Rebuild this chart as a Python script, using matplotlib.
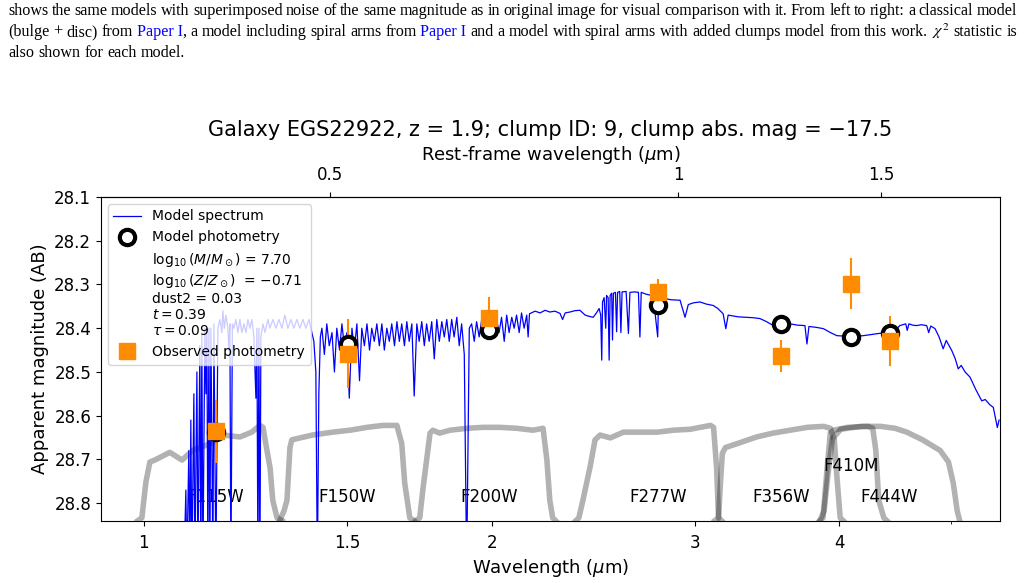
import matplotlib
matplotlib.use('Agg')
import matplotlib.pyplot as plt
from matplotlib.ticker import FixedLocator, NullFormatter, NullLocator

z = 1.9

# photometry
filters = ['F115W', 'F150W', 'F200W', 'F277W', 'F356W', 'F410M', 'F444W']
phot_wave = [1.154, 1.501, 1.990, 2.786, 3.563, 4.092, 4.421]
model_mag = [28.637, 28.435, 28.403, 28.348, 28.391, 28.419, 28.412]
obs_mag = [28.636, 28.458, 28.377, 28.318, 28.464, 28.298, 28.430]
obs_err = [0.071, 0.078, 0.048, 0.030, 0.036, 0.059, 0.057]
label_mag = [28.787, 28.787, 28.787, 28.787, 28.787, 28.716, 28.787]

# filter transmission curves (normalised)
f115w_wave = [0.988, 0.996, 1.004, 1.012, 1.022, 1.053, 1.079, 1.102, 1.141, 1.170, 1.211, 1.240, 1.260, 1.268, 1.278, 1.286, 1.293, 1.304, 1.317]
f115w_trans = [0.0, 0.03, 0.40, 0.61, 0.63, 0.71, 0.63, 0.73, 0.80, 0.89, 0.87, 0.92, 0.99, 0.97, 0.73, 0.55, 0.21, 0.03, 0.0]
f150w_wave = [1.311, 1.322, 1.330, 1.338, 1.343, 1.365, 1.400, 1.457, 1.508, 1.560, 1.611, 1.656, 1.672, 1.682, 1.699, 1.713]
f150w_trans = [0.0, 0.10, 0.21, 0.76, 0.84, 0.86, 0.89, 0.92, 0.94, 0.97, 0.99, 0.99, 0.80, 0.39, 0.03, 0.0]
f200w_wave = [1.720, 1.733, 1.745, 1.769, 1.779, 1.803, 1.841, 1.904, 1.966, 2.034, 2.103, 2.172, 2.216, 2.233, 2.246, 2.259, 2.272]
f200w_trans = [0.0, 0.03, 0.35, 0.91, 0.94, 0.91, 0.94, 0.96, 0.97, 0.97, 0.96, 0.94, 0.96, 0.63, 0.21, 0.03, 0.0]
f277w_wave = [2.366, 2.380, 2.399, 2.433, 2.458, 2.483, 2.534, 2.601, 2.690, 2.782, 2.873, 2.972, 3.032, 3.094, 3.113, 3.132, 3.144, 3.163]
f277w_trans = [0.0, 0.03, 0.21, 0.55, 0.84, 0.89, 0.86, 0.92, 0.92, 0.92, 0.94, 0.95, 0.97, 0.99, 0.97, 0.55, 0.03, 0.0]
f356w_wave = [3.121, 3.144, 3.156, 3.168, 3.188, 3.280, 3.392, 3.505, 3.626, 3.753, 3.876, 3.929, 3.960, 3.983, 4.007, 4.031]
f356w_trans = [0.0, 0.03, 0.39, 0.70, 0.76, 0.81, 0.87, 0.91, 0.94, 0.97, 0.98, 0.96, 0.84, 0.42, 0.03, 0.0]
f410m_wave = [3.848, 3.872, 3.904, 3.929, 3.953, 4.066, 4.233, 4.275, 4.301, 4.327, 4.371, 4.397]
f410m_trans = [0.0, 0.03, 0.55, 0.91, 0.94, 0.97, 0.98, 0.96, 0.74, 0.21, 0.03, 0.0]
f444w_wave = [3.848, 3.880, 3.912, 3.945, 4.011, 4.174, 4.345, 4.470, 4.576, 4.722, 4.890, 4.972, 5.020, 5.060, 5.085]
f444w_trans = [0.0, 0.10, 0.50, 0.85, 0.95, 0.98, 0.98, 0.96, 0.92, 0.84, 0.73, 0.61, 0.39, 0.10, 0.0]

# model spectrum, blue end (Balmer lines / break)
spec_blue = [
    (1.083, 28.95), (1.0873, 28.77), (1.0894, 28.95), (1.0937, 28.68), (1.0959, 28.95),
    (1.0981, 28.61), (1.1004, 28.95), (1.1048, 28.55), (1.1070, 28.95), (1.1115, 28.50),
    (1.1137, 28.95), (1.1180, 28.44), (1.1203, 28.95), (1.1225, 28.41), (1.1248, 28.95),
    (1.1293, 28.40), (1.1316, 28.55), (1.1338, 28.40), (1.1361, 28.95), (1.1384, 28.40),
    (1.1406, 28.95), (1.1429, 28.40), (1.1475, 28.95), (1.1498, 28.39), (1.1543, 28.95),
    (1.1590, 28.40), (1.1636, 28.38), (1.1683, 28.41), (1.1706, 28.36), (1.1740, 28.40),
    (1.1776, 28.37), (1.1823, 28.40), (1.1847, 28.45), (1.1870, 28.39), (1.1894, 28.95),
    (1.1930, 28.39), (1.1965, 28.40), (1.2013, 28.38), (1.2061, 28.41), (1.2109, 28.38),
    (1.2157, 28.41), (1.2206, 28.39), (1.2255, 28.41), (1.2304, 28.38), (1.2353, 28.40),
    (1.2402, 28.38), (1.2452, 28.42), (1.2502, 28.56), (1.2527, 28.40), (1.2552, 28.95),
    (1.2577, 28.40), (1.2602, 28.95), (1.2627, 28.42), (1.2678, 28.39), (1.2728, 28.41),
    (1.2805, 28.38), (1.2855, 28.40), (1.2933, 28.38), (1.3010, 28.40), (1.3088, 28.38),
    (1.3166, 28.40), (1.3245, 28.37), (1.3325, 28.40), (1.3405, 28.38), (1.3485, 28.40),
    (1.3566, 28.38), (1.3647, 28.40), (1.3730, 28.38), (1.3812, 28.40), (1.3895, 28.38),
    (1.3978, 28.41), (1.4033, 28.43), (1.4089, 28.50), (1.4131, 28.95), (1.4173, 28.55),
    (1.4216, 28.42),
]

# noisy part between H-beta and 2.15 um
spec_mid = [
    (1.426, 28.40), (1.433, 28.46), (1.440, 28.39), (1.447, 28.44), (1.455, 28.41),
    (1.462, 28.50), (1.469, 28.40), (1.477, 28.45), (1.484, 28.39), (1.491, 28.44),
    (1.499, 28.41), (1.506, 28.56), (1.514, 28.40), (1.521, 28.45), (1.529, 28.39),
    (1.537, 28.52), (1.544, 28.40), (1.552, 28.44), (1.560, 28.39), (1.568, 28.45),
    (1.575, 28.40), (1.583, 28.43), (1.591, 28.39), (1.599, 28.44), (1.607, 28.39),
    (1.615, 28.45), (1.623, 28.40), (1.631, 28.43), (1.639, 28.39), (1.648, 28.44),
    (1.656, 28.385), (1.664, 28.43), (1.672, 28.39), (1.681, 28.44), (1.689, 28.385),
    (1.697, 28.43), (1.706, 28.39), (1.714, 28.555), (1.723, 28.39), (1.731, 28.43),
    (1.740, 28.385), (1.749, 28.44), (1.757, 28.39), (1.766, 28.43), (1.775, 28.385),
    (1.784, 28.47), (1.793, 28.38), (1.802, 28.43), (1.811, 28.385), (1.820, 28.42),
    (1.829, 28.38), (1.838, 28.43), (1.847, 28.38), (1.856, 28.42), (1.866, 28.375),
    (1.875, 28.44), (1.884, 28.39), (1.894, 28.46), (1.903, 28.95), (1.913, 28.40),
    (1.922, 28.39), (1.932, 28.43), (1.941, 28.385), (1.951, 28.42), (1.961, 28.38),
    (1.971, 28.42), (1.980, 28.38), (1.990, 28.41), (2.000, 28.375), (2.010, 28.42),
    (2.020, 28.38), (2.030, 28.41), (2.040, 28.375), (2.051, 28.43), (2.061, 28.37),
    (2.071, 28.41), (2.082, 28.375), (2.092, 28.40), (2.102, 28.37), (2.113, 28.41),
    (2.123, 28.365), (2.134, 28.40), (2.145, 28.37), (2.151, 28.42), (2.157, 28.367),
]

# smooth red part
spec_red = [
    (2.181, 28.361), (2.203, 28.365), (2.225, 28.359), (2.246, 28.363), (2.269, 28.361),
    (2.292, 28.366), (2.304, 28.38), (2.316, 28.365), (2.338, 28.363), (2.360, 28.36),
    (2.385, 28.359), (2.410, 28.37), (2.430, 28.373), (2.449, 28.375), (2.465, 28.365),
    (2.478, 28.355), (2.486, 28.37), (2.491, 28.473), (2.495, 28.34), (2.503, 28.33),
    (2.511, 28.40), (2.515, 28.325), (2.523, 28.33), (2.528, 28.473), (2.533, 28.325),
    (2.541, 28.32), (2.545, 28.427), (2.550, 28.32), (2.560, 28.318), (2.566, 28.408),
    (2.571, 28.318), (2.582, 28.316), (2.588, 28.41), (2.594, 28.317), (2.615, 28.316),
    (2.627, 28.412), (2.635, 28.318), (2.660, 28.317), (2.680, 28.318), (2.688, 28.42),
    (2.695, 28.318), (2.720, 28.322), (2.760, 28.326), (2.785, 28.42), (2.790, 28.328),
    (2.810, 28.33), (2.835, 28.333), (2.860, 28.335), (2.912, 28.336), (2.941, 28.375),
    (2.960, 28.346), (2.990, 28.342), (3.030, 28.34), (3.070, 28.345), (3.111, 28.348),
    (3.140, 28.355), (3.173, 28.367), (3.190, 28.401), (3.205, 28.37), (3.220, 28.371),
    (3.270, 28.374), (3.325, 28.375), (3.370, 28.376), (3.415, 28.378), (3.460, 28.385),
    (3.507, 28.394), (3.560, 28.392), (3.625, 28.39), (3.680, 28.393), (3.735, 28.394),
    (3.750, 28.436), (3.765, 28.396), (3.820, 28.398), (3.875, 28.401), (3.930, 28.41),
    (3.980, 28.417), (4.040, 28.418), (4.101, 28.42), (4.150, 28.418), (4.197, 28.417),
    (4.250, 28.415), (4.309, 28.413), (4.380, 28.41), (4.456, 28.405), (4.490, 28.40),
    (4.513, 28.394), (4.540, 28.392), (4.566, 28.39), (4.580, 28.405), (4.595, 28.39),
    (4.630, 28.393), (4.667, 28.394), (4.710, 28.392), (4.761, 28.394), (4.780, 28.41),
    (4.800, 28.395), (4.841, 28.401), (4.880, 28.42), (4.920, 28.447), (4.950, 28.428),
    (5.005, 28.451), (5.040, 28.47), (5.070, 28.493), (5.100, 28.485), (5.140, 28.50),
    (5.191, 28.512), (5.250, 28.54), (5.313, 28.566), (5.350, 28.563), (5.400, 28.575),
    (5.437, 28.581), (5.481, 28.627), (5.500, 28.61),
]

spec_wave, spec_mag = zip(*(spec_blue + spec_mid + spec_red))

fig = plt.figure(figsize=(10.25, 5.83), dpi=100)
ax = fig.add_axes([0.0985, 0.1069, 0.8771, 0.5552])

curves = [(f115w_wave, f115w_trans), (f150w_wave, f150w_trans), (f200w_wave, f200w_trans),
          (f277w_wave, f277w_trans), (f356w_wave, f356w_trans), (f410m_wave, f410m_trans),
          (f444w_wave, f444w_trans)]
for wv, tr in curves:
    ax.plot(wv, [28.84 - 0.22 * t for t in tr], color='k', alpha=0.3, lw=4,
            solid_joinstyle='round', zorder=1)
for w, m, name in zip(phot_wave, label_mag, filters):
    ax.text(w, m, name, ha='center', va='center', fontsize=12, zorder=1.5)

ax.plot(spec_wave, spec_mag, color='blue', lw=0.9, label='Model spectrum', zorder=2)
ax.errorbar(phot_wave, obs_mag, yerr=obs_err, fmt='none', ecolor='darkorange',
            elinewidth=1.5, zorder=3)
ax.plot(phot_wave, model_mag, 'o', ms=11, mfc='white', mec='k', mew=3,
        label='Model photometry', zorder=4)
params = ('$\\log_{10}(M/M_\\odot)$ = 7.70\n'
          '$\\log_{10}(Z/Z_\\odot)$  = \u22120.71\n'
          'dust2 = 0.03\n'
          '$t = 0.39$\n'
          '$\\tau = 0.09$')
ax.plot([], [], ' ', label=params)
ax.plot(phot_wave, obs_mag, 's', ms=12, color='darkorange', label='Observed photometry',
        zorder=5)

ax.set_xscale('log')
ax.set_xlim(0.918, 5.51)
ax.set_ylim(28.84, 28.1)
ax.xaxis.set_major_locator(FixedLocator([1, 1.5, 2, 3, 4]))
ax.xaxis.set_major_formatter(NullFormatter())
ax.set_xticklabels(['1', '1.5', '2', '3', '4'])
ax.xaxis.set_minor_locator(FixedLocator([5]))
ax.xaxis.set_minor_formatter(NullFormatter())
ax.set_yticks([28.1, 28.2, 28.3, 28.4, 28.5, 28.6, 28.7, 28.8])
ax.tick_params(labelsize=12)
ax.tick_params(axis='x', pad=6)
ax.set_xlabel('Wavelength ($\\mu$m)', fontsize=13)
ax.set_ylabel('Apparent magnitude (AB)', fontsize=13)

sec = ax.secondary_xaxis('top', functions=(lambda x: x / (1 + z), lambda x: x * (1 + z)))
sec.xaxis.set_major_locator(FixedLocator([0.5, 1, 1.5]))
sec.set_xticklabels(['0.5', '1', '1.5'])
sec.xaxis.set_minor_locator(NullLocator())
sec.tick_params(labelsize=12, pad=6)
sec.set_xlabel('Rest-frame wavelength ($\\mu$m)', fontsize=13)

ax.set_title('Galaxy EGS22922, z = 1.9; clump ID: 9, clump abs. mag = \u221217.5', fontsize=15)
ax.legend(loc='upper left', fontsize=10)

# caption text of the paper page above the figure
cap1 = ['shows', 'the', 'same', 'models', 'with', 'superimposed', 'noise', 'of', 'the', 'same',
        'magnitude', 'as', 'in', 'original', 'image', 'for', 'visual', 'comparison', 'with',
        'it.', 'From', 'left', 'to', 'right:', 'a', 'classical', 'model']
cap2 = ['(bulge', '+', 'disc)', 'from', [('Paper I', 'blue'), (',', 'k')], 'a', 'model',
        'including', 'spiral', 'arms', 'from', [('Paper I', 'blue')], 'and', 'a', 'model',
        'with', 'spiral', 'arms', 'with', 'added', 'clumps', 'model', 'from', 'this', 'work.',
        '$\\chi^2$', 'statistic', 'is']
cap3 = ['also', 'shown', 'for', 'each', 'model.']

W, H = fig.bbox.width, fig.bbox.height
renderer = fig.canvas.get_renderer()


def place_line(words, y_px, justify, size=11.6, x0=8, x1=1017):
    items = []
    for w in words:
        segs = w if isinstance(w, list) else [(w, 'k')]
        ts = []
        for s, c in segs:
            t = fig.text(0, 1 - y_px / H, s, color=c, fontsize=size, va='baseline',
                         family='Liberation Serif', math_fontfamily='stix')
            ts.append((t, t.get_window_extent(renderer).width))
        items.append(ts)
    widths = [sum(wd for _, wd in ts) for ts in items]
    if justify:
        gap = (x1 - x0 - sum(widths)) / (len(items) - 1)
    else:
        gap = size * 100 / 72 * 0.25
    x = x0
    for ts, wd in zip(items, widths):
        xx = x
        for t, tw in ts:
            t.set_x(xx / W)
            xx += tw
        x += wd + gap


place_line(cap1, 15, True)
place_line(cap2, 36, True)
place_line(cap3, 57, False)

fig.savefig('out.png', dpi=100)
